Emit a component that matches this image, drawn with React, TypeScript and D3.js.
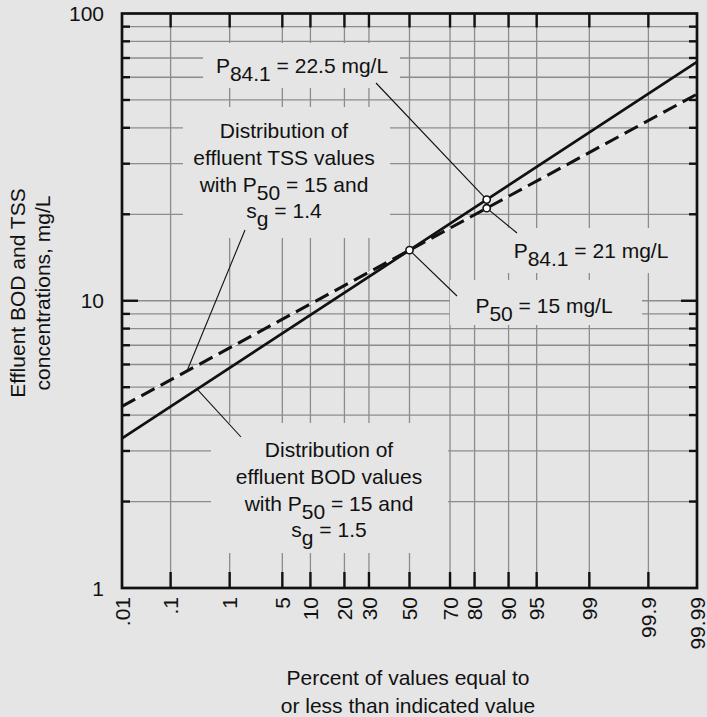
import React from "react";
import * as d3 from "d3";

// ---------- data ----------
const percentTicks = [0.01, 0.1, 1, 5, 10, 20, 30, 50, 70, 80, 90, 95, 99, 99.9, 99.99];
const percentLabels = [".01", ".1", "1", "5", "10", "20", "30", "50", "70", "80", "90", "95", "99", "99.9", "99.99"];
const gridPercents = [0.1, 1, 5, 10, 20, 30, 50, 70, 80, 90, 95, 99, 99.9];
const yTickValues = [1, 10, 100];
const yTickLabels = ["1", "10", "100"];
const yGridValues = [2, 3, 4, 5, 6, 7, 8, 9, 10, 20, 30, 40, 50, 60, 70, 80, 90];

const bodPercent = [0.01, 50, 84.1, 99.99];
const bodValues = [3.32, 15, 22.5, 67.8];
const tssPercent = [0.01, 50, 84.1, 99.99];
const tssValues = [4.29, 15, 21, 52.4];

const markerPercent = [50, 84.1, 84.1];
const markerValues = [15, 22.5, 21];

// ---------- helpers ----------
function normInv(p: number): number {
  const a = [-3.969683028665376e1, 2.209460984245205e2, -2.759285104469687e2, 1.38357751867269e2, -3.066479806614716e1, 2.506628277459239];
  const b = [-5.447609879822406e1, 1.615858368580409e2, -1.556989798598866e2, 6.680131188771972e1, -1.328068155288572e1];
  const c = [-7.784894002430293e-3, -3.223964580411365e-1, -2.400758277161838, -2.549732539343734, 4.374664141464968, 2.938163982698783];
  const d = [7.784695709041462e-3, 3.224671290700398e-1, 2.445134137142996, 3.754408661907416];
  const pl = 0.02425, ph = 1 - pl;
  let q: number, r: number;
  if (p < pl) {
    q = Math.sqrt(-2 * Math.log(p));
    return (((((c[0] * q + c[1]) * q + c[2]) * q + c[3]) * q + c[4]) * q + c[5]) / ((((d[0] * q + d[1]) * q + d[2]) * q + d[3]) * q + 1);
  }
  if (p <= ph) {
    q = p - 0.5; r = q * q;
    return (((((a[0] * r + a[1]) * r + a[2]) * r + a[3]) * r + a[4]) * r + a[5]) * q / (((((b[0] * r + b[1]) * r + b[2]) * r + b[3]) * r + b[4]) * r + 1);
  }
  q = Math.sqrt(-2 * Math.log(1 - p));
  return -(((((c[0] * q + c[1]) * q + c[2]) * q + c[3]) * q + c[4]) * q + c[5]) / ((((d[0] * q + d[1]) * q + d[2]) * q + d[3]) * q + 1);
}

const W = 707, H = 717;
const L = 122, R = 697, T = 13.5, B = 588;
const BG = "#e5e5e5";
const GRID = "#8c8c8c";
const INK = "#111";
const FONT = "'Liberation Sans', Arial, Helvetica, sans-serif";
const FS = 21;

const zScale = d3.scaleLinear().domain([normInv(0.0001), normInv(0.9999)]).range([L, R]);
const xs = (p: number) => zScale(normInv(p / 100));
const ys = d3.scaleLog().domain([1, 100]).range([B, T]);

const bodData = bodPercent.map((p, i) => ({ p, v: bodValues[i] }));
const tssData = tssPercent.map((p, i) => ({ p, v: tssValues[i] }));
const markers = markerPercent.map((p, i) => ({ p, v: markerValues[i] }));

const lineGen = d3.line<{ p: number; v: number }>().x(d => xs(d.p)).y(d => ys(d.v));

// position along a drawn series (screen-space interpolation)
function onLine(series: { p: number; v: number }[], p: number): [number, number] {
  const x = xs(p);
  for (let i = 0; i < series.length - 1; i++) {
    const x0 = xs(series[i].p), x1 = xs(series[i + 1].p);
    if (x >= x0 && x <= x1) {
      const t = (x - x0) / (x1 - x0);
      return [x, ys(series[i].v) + t * (ys(series[i + 1].v) - ys(series[i].v))];
    }
  }
  return [x, ys(series[0].v)];
}

const Sub = ({ main, sub, rest }: { main: string; sub: string; rest: string }) => (
  <>
    {main}
    <tspan dy={8}>{sub}</tspan>
    <tspan dy={-8}>{rest}</tspan>
  </>
);

export default function App() {
  const tssPtr = onLine(tssData, 0.2);
  const bodPtr = onLine(bodData, 0.3);
  const m50 = [xs(50), ys(15)];
  const mB84 = [xs(84.1), ys(22.5)];
  const mT84 = [xs(84.1), ys(21)];
  const lh = 26.8;

  return (
    <svg width={W} height={H} style={{ position: "absolute", left: 0, top: 0 }} fontFamily={FONT}>
      <rect x={0} y={0} width={W} height={H} fill={BG} />

      {/* grid */}
      <g stroke={GRID} strokeWidth={1.3}>
        {gridPercents.map(p => (
          <line key={"v" + p} x1={xs(p)} x2={xs(p)} y1={T} y2={B} />
        ))}
        {yGridValues.map(v => (
          <line key={"h" + v} x1={L} x2={R} y1={ys(v)} y2={ys(v)} />
        ))}
      </g>

      {/* label boxes hiding grid */}
      <g fill={BG}>
        <rect x={203} y={43} width={197} height={45} />
        <rect x={183} y={107} width={207} height={131} />
        <rect x={496} y={228} width={194} height={45} />
        <rect x={450} y={280} width={192} height={45} />
        <rect x={211} y={423} width={237} height={130} />
      </g>

      {/* ticks */}
      <g stroke={INK} strokeWidth={2.4}>
        {gridPercents.map(p => (
          <g key={"t" + p}>
            <line x1={xs(p)} x2={xs(p)} y1={T} y2={T + 14} />
            <line x1={xs(p)} x2={xs(p)} y1={B} y2={B - 16} />
          </g>
        ))}
        {yGridValues.map(v => (
          <g key={"ty" + v}>
            <line x1={L} x2={L + (v === 10 ? 16 : 8)} y1={ys(v)} y2={ys(v)} />
            <line x1={R} x2={R - (v === 10 ? 16 : 8)} y1={ys(v)} y2={ys(v)} />
          </g>
        ))}
      </g>

      {/* series */}
      <path d={lineGen(tssData) || ""} fill="none" stroke="#fff" strokeWidth={1} />
      <path d={lineGen(tssData) || ""} fill="none" stroke={INK} strokeWidth={3} strokeDasharray="15,7" />
      <path d={lineGen(bodData) || ""} fill="none" stroke={INK} strokeWidth={2.7} />

      {/* leader lines */}
      <g stroke={INK} strokeWidth={1.1}>
        <line x1={376} y1={83} x2={mB84[0]} y2={mB84[1]} />
        <line x1={mT84[0]} y1={mT84[1]} x2={517} y2={233} />
        <line x1={m50[0]} y1={m50[1]} x2={457} y2={296} />
        <line x1={245} y1={230} x2={tssPtr[0]} y2={tssPtr[1]} />
        <line x1={bodPtr[0]} y1={bodPtr[1]} x2={241} y2={437} />
      </g>

      {/* markers */}
      {markers.map((m, i) => (
        <circle key={"m" + i} cx={xs(m.p)} cy={ys(m.v)} r={3.6} fill="#fff" stroke={INK} strokeWidth={1.6} />
      ))}

      {/* frame */}
      <rect x={L} y={T} width={R - L} height={B - T} fill="none" stroke={INK} strokeWidth={2.7} />

      {/* annotation text */}
      <g fill={INK} fontSize={FS} textAnchor="middle">
        <text x={302} y={73}><Sub main="P" sub="84.1" rest=" = 22.5 mg/L" /></text>
        <text x={284} y={138}>Distribution of</text>
        <text x={284} y={138 + lh}>effluent TSS values</text>
        <text x={284} y={138 + 2 * lh}><Sub main="with P" sub="50" rest=" = 15 and" /></text>
        <text x={284} y={138 + 3 * lh}><Sub main="s" sub="g" rest=" = 1.4" /></text>
        <text x={591} y={258}><Sub main="P" sub="84.1" rest=" = 21 mg/L" /></text>
        <text x={544} y={313}><Sub main="P" sub="50" rest=" = 15 mg/L" /></text>
        <text x={329} y={457}>Distribution of</text>
        <text x={329} y={457 + lh}>effluent BOD values</text>
        <text x={329} y={457 + 2 * lh}><Sub main="with P" sub="50" rest=" = 15 and" /></text>
        <text x={329} y={457 + 3 * lh}><Sub main="s" sub="g" rest=" = 1.5" /></text>
      </g>

      {/* y tick labels */}
      <g fill={INK} fontSize={FS} textAnchor="end">
        {yTickValues.map((v, i) => (
          <text key={"yl" + v} x={104} y={ys(v)} dy="0.36em">{yTickLabels[i]}</text>
        ))}
      </g>

      {/* x tick labels */}
      <g fill={INK} fontSize={FS} textAnchor="end">
        {percentTicks.map((p, i) => (
          <text key={"xl" + p} transform={`translate(${xs(p)},597) rotate(-90)`} dy="0.36em">{percentLabels[i]}</text>
        ))}
      </g>

      {/* axis titles */}
      <g fill={INK} fontSize={FS} textAnchor="middle">
        <text transform="translate(25,293) rotate(-90)">Effluent BOD and TSS</text>
        <text transform="translate(50,293) rotate(-90)">concentrations, mg/L</text>
        <text x={408} y={685}>Percent of values equal to</text>
        <text x={408} y={713}>or less than indicated value</text>
      </g>
    </svg>
  );
}
